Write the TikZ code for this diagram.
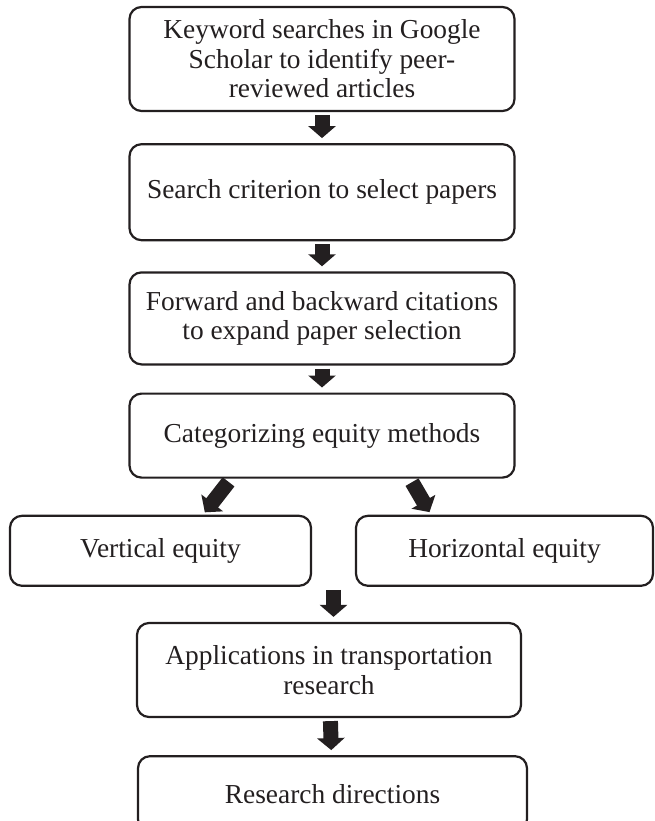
\documentclass[tikz,border=0pt]{standalone}
\usepackage{fontspec}
\setmainfont{Liberation Serif}
\usetikzlibrary{positioning,arrows.meta,calc}
\definecolor{ink}{HTML}{231F20}

\begin{document}
\begin{tikzpicture}[x=1pt,y=-1pt,
    box/.style={draw=ink, line width=2.2pt, rounded corners=12pt, align=center,
      inner sep=0pt, text=ink, font=\fontsize{27.4}{29.5}\selectfont},
    fat/.style={draw=ink, line width=15pt, -{Triangle[width=27pt,length=12pt]},
      shorten <=3pt, shorten >=5pt}]
            \useasboundingbox (0,0) rectangle (654,821);

            \node (1) [box, minimum width=385pt, minimum height=104pt] at (322,59)
              {Keyword searches in Google\\ Scholar to identify peer-\\ reviewed articles};
            \node (2) [box, minimum width=385pt, minimum height=96pt, below=31pt of 1]
              {Search criterion to select papers};
            \node (3) [box, minimum width=385pt, minimum height=92pt, below=30pt of 2]
              {Forward and backward citations\\ to expand paper selection};
            \node (4) [box, minimum width=385pt, minimum height=84pt, below=27pt of 3]
              {Categorizing equity methods};
            \node (5) [box, minimum width=301pt, minimum height=70pt, below=36pt of 4, xshift=-161.5pt]
              {Vertical equity};
            \node (6) [box, minimum width=297pt, minimum height=70pt, below=36pt of 4, xshift=182.5pt]
              {Horizontal equity};
            \coordinate (m) at ($(5.south east)!0.5!(6.south west)$);
            \node (7) [box, minimum width=384pt, minimum height=94pt, below=35pt of 5.south, xshift=168.5pt]
              {Applications in transportation\\ research};
            \node (8) [box, minimum width=389pt, minimum height=75pt, below=37pt of 7, xshift=3.5pt]
              {Research directions};

            \path
            (1) edge[fat] (2)
            (2) edge[fat] (3)
            (3) edge[fat] (4)
            ([xshift=-91pt]4.south) edge[fat, shorten <=4pt, shorten >=3pt] ([xshift=42.5pt]5.north)
            ([xshift=88pt]4.south) edge[fat, shorten <=4pt, shorten >=3pt] ([xshift=-73.5pt]6.north)
            (m) edge[fat] (m |- 7.north)
            (7) edge[fat] (8);

\end{tikzpicture}
\end{document}
